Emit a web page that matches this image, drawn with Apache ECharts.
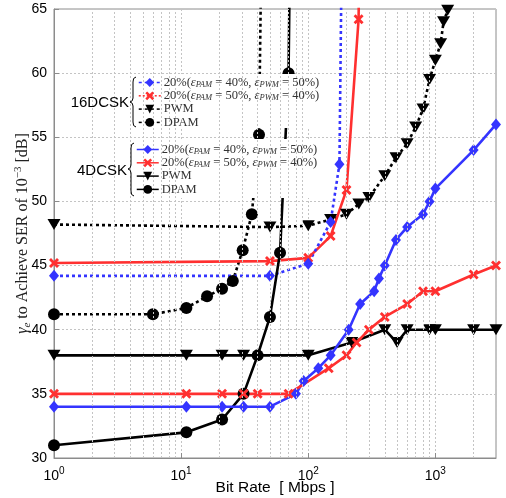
<!DOCTYPE html>
<html><head><meta charset="utf-8">
<script src="https://cdn.jsdelivr.net/npm/echarts@6/dist/echarts.min.js"></script>
<style>html,body{margin:0;padding:0;background:#fff}#c{width:506px;height:498px}</style>
</head><body><div id="c"></div>
<script>
// ---- data (x: Bit Rate [Mbps], y: gamma_e [dB]) ----
const dcsk4Blue = [[1,34],[11,34],[21,34],[31,34],[50,34],[80,35],[92,36],[120,37],[150,38],[208,40],[256,42],[330,43],[360,44],[400,45],[490,47],[600,48],[800,49],[900,50],[1000,51],[2000,54],[3000,56]];
const dcsk4Red = [[1,35],[11,35],[21,35],[31,35],[40,35],[70,35],[145,37],[200,38],[240,39],[300,40],[400,41],[600,42],[800,43],[1000,43],[2000,44.3],[3000,45]];
const dcsk4Pwm = [[1,38],[11,38],[21,38],[31,38],[100,38],[220,39],[400,40],[500,39],[600,40],[900,40],[1000,40],[2000,40],[3000,40]];
const dcsk4Dpam = [[1,31],[11,32],[21,33],[31,35],[40,38],[50,41],[60,46],[70,60],[73,75]];
const dcsk16Blue = [[1,44.2],[50,44.2],[100,45.15],[150,48.4],[176,52.9],[186,75]];
const dcsk16Red = [[1,45.2],[50,45.35],[100,45.6],[150,47.3],[200,50.9],[249,64.2],[255,75]];
const dcsk16Pwm = [[1,48.2],[50,48],[100,48.1],[150,48.6],[200,49],[250,49.8],[300,50.3],[400,52],[490,53.4],[600,54.5],[700,55.8],[800,57.2],[900,59.5],[1000,61],[1100,62.3],[1160,64],[1250,64.9]];
const dcsk16Dpam = [[1,41.2],[6,41.2],[11,41.7],[16,42.6],[21,43.2],[25.5,43.8],[30.5,46.2],[36,49],[41,55.2],[43.5,75]];
const minorGridX = [2,3,4,5,6,7,8,9,20,30,40,50,60,70,80,90,200,300,400,500,600,700,800,900,2000];
const legendText = {
  a: '{t|20%(}{e|ε}{s|PAM}{t| = 40%, }{e|ε}{s|PWM}{t| = 50%)}',
  b: '{t|20%(}{e|ε}{s|PAM}{t| = 50%, }{e|ε}{s|PWM}{t| = 40%)}',
  p: '{t|PWM}',
  d: '{t|DPAM}'
};

const BLUE = '#3434ff', RED = '#ff3030', BLACK = '#000';
const SYM_X = 'path://M2,0L5,3L8,0L10,2L7,5L10,8L8,10L5,7L2,10L0,8L3,5L0,2Z';
const SYM_TRI = 'path://M0,0L12,0L6,10Z';
const DOT = [3,3];

function mk(name, data, color, symbol, size, dotted) {
  return {
    name, type: 'line', data, symbol, symbolSize: size, clip: true,
    lineStyle: {color, width: 2.6, type: dotted ? DOT : 'solid'},
    itemStyle: {color},
    emphasis: {disabled: true}, animation: false
  };
}

const chart = echarts.init(document.getElementById('c'));
const serif = '"Liberation Serif", "DejaVu Serif", serif';
const sans = '"Liberation Sans", Arial, sans-serif';
const legRich = {
  t: {fontFamily: serif, fontSize: 12.5, lineHeight: 13, color: '#333'},
  e: {fontFamily: serif, fontSize: 12.5, lineHeight: 13, fontStyle: 'italic', color: '#333'},
  s: {fontFamily: serif, fontSize: 8.5, lineHeight: 7, verticalAlign: 'bottom', fontStyle: 'italic', color: '#333'}
};
function legend(names, left, top, dottedRed) {
  return {
    orient: 'vertical', left, top, padding: 0, itemGap: 0.3, itemWidth: 22, itemHeight: 11,
    selectedMode: false, z: 10,
    data: names.map(n => n === dottedRed ? {name: n, lineStyle: {type: [2,2]}} : n),
    formatter: n => legendText[n.charAt(0)],
    lineStyle: {width: 1.5},
    textStyle: {rich: legRich, padding: [0,0,0,-2]}
  };
}

chart.setOption({
  animation: false,
  backgroundColor: '#fff',
  grid: {left: 54, right: 10, top: 9, bottom: 40, outerBoundsMode: 'none', containLabel: false,
         show: true, borderColor: '#8c8c8c', borderWidth: 1},
  xAxis: {
    type: 'log', logBase: 10, min: 1, max: 3000,
    name: 'Bit Rate  [ Mbps ]', nameLocation: 'middle', nameGap: 22, nameMoveOverlap: false,
    nameTextStyle: {fontFamily: sans, fontSize: 15.5, color: '#000'},
    axisLine: {lineStyle: {color: '#8c8c8c'}},
    axisTick: {inside: true, length: 5, lineStyle: {color: '#8c8c8c'}},
    splitLine: {show: true, lineStyle: {color: '#c4c4c4', type: [2,2]}},
    minorTick: {show: false},
    axisLabel: {
      margin: 8, showMaxLabel: false,
      formatter: v => {
        const e = Math.log10(v);
        if (Math.abs(e - Math.round(e)) > 1e-6) return '';
        return '{b|10}{s|' + Math.round(e) + '}';
      },
      rich: {
        b: {fontFamily: sans, fontSize: 14, lineHeight: 20, color: '#000'},
        s: {fontFamily: sans, fontSize: 10, lineHeight: 10, verticalAlign: 'top', color: '#000'}
      }
    }
  },
  yAxis: {
    type: 'value', min: 30, max: 65, interval: 5,
    name: '{g|γ}{sub|e}{t| to Achieve SER of 10}{sup|−3}{t| [dB]}',
    nameLocation: 'middle', nameGap: 21, nameRotate: 90, nameMoveOverlap: false,
    nameTextStyle: {
      rich: {
        g: {fontFamily: serif, fontSize: 16, lineHeight: 20, fontStyle: 'italic', color: '#222'},
        t: {fontFamily: serif, fontSize: 16, lineHeight: 20, color: '#222'},
        sub: {fontFamily: serif, fontSize: 11, lineHeight: 10, verticalAlign: 'bottom', fontStyle: 'italic', color: '#222'},
        sup: {fontFamily: serif, fontSize: 11, lineHeight: 10, verticalAlign: 'top', color: '#222'}
      }
    },
    axisLine: {show: true, lineStyle: {color: '#8c8c8c'}},
    axisTick: {inside: true, length: 5, lineStyle: {color: '#8c8c8c'}},
    splitLine: {show: true, lineStyle: {color: '#c4c4c4', type: [2,2]}},
    axisLabel: {fontFamily: sans, fontSize: 14, color: '#000', margin: 7}
  },
  legend: [
    legend(['a16','b16','p16','d16'], 138, 76, 'b16'),
    legend(['a4','b4','p4','d4'], 136, 143, null)
  ],
  graphic: [
    {type: 'rect', z: 5, shape: {x: 57, y: 74, width: 267, height: 54}, style: {fill: '#fff'}},
    {type: 'rect', z: 5, shape: {x: 57, y: 139, width: 263, height: 59}, style: {fill: '#fff'}},
    {type: 'text', z: 6, x: 129, y: 103, style: {text: '16DCSK', font: '15px ' + sans, fill: '#000', align: 'right', verticalAlign: 'middle'}},
    {type: 'text', z: 6, x: 127, y: 171, style: {text: '4DCSK', font: '15px ' + sans, fill: '#000', align: 'right', verticalAlign: 'middle'}},
    {type: 'polyline', z: 6, shape: {points: [[136,77],[133.6,78.5],[133,82],[133,98],[132.2,100.8],[130,102],[132.2,103.2],[133,106],[133,122],[133.6,125.5],[136,127]]}, style: {stroke: '#000', lineWidth: 1, fill: null}},
    {type: 'polyline', z: 6, shape: {points: [[134,143],[131.6,144.5],[131,148],[131,165],[130.2,167.8],[128,169],[130.2,170.2],[131,173],[131,191],[131.6,194.5],[134,196]]}, style: {stroke: '#000', lineWidth: 1, fill: null}}
  ],
  series: [
    {type: 'line', data: [], silent: true, markLine: {
      silent: true, symbol: 'none', label: {show: false}, animation: false,
      lineStyle: {color: '#c4c4c4', type: [2,2], width: 1},
      emphasis: {disabled: true},
      data: minorGridX.map(v => ({xAxis: v}))
    }},
    mk('d16', dcsk16Dpam, BLACK, 'circle', 12, true),
    mk('p16', dcsk16Pwm, BLACK, SYM_TRI, [13,11], true),
    mk('b16', dcsk16Red, RED, SYM_X, 10, false),
    mk('a16', dcsk16Blue, BLUE, 'diamond', [10,12], true),
    mk('d4', dcsk4Dpam, BLACK, 'circle', 12, false),
    mk('p4', dcsk4Pwm, BLACK, SYM_TRI, [13,11], false),
    mk('a4', dcsk4Blue, BLUE, 'diamond', [10,12], false),
    mk('b4', dcsk4Red, RED, SYM_X, 10, false)
  ]
});
</script></body></html>
